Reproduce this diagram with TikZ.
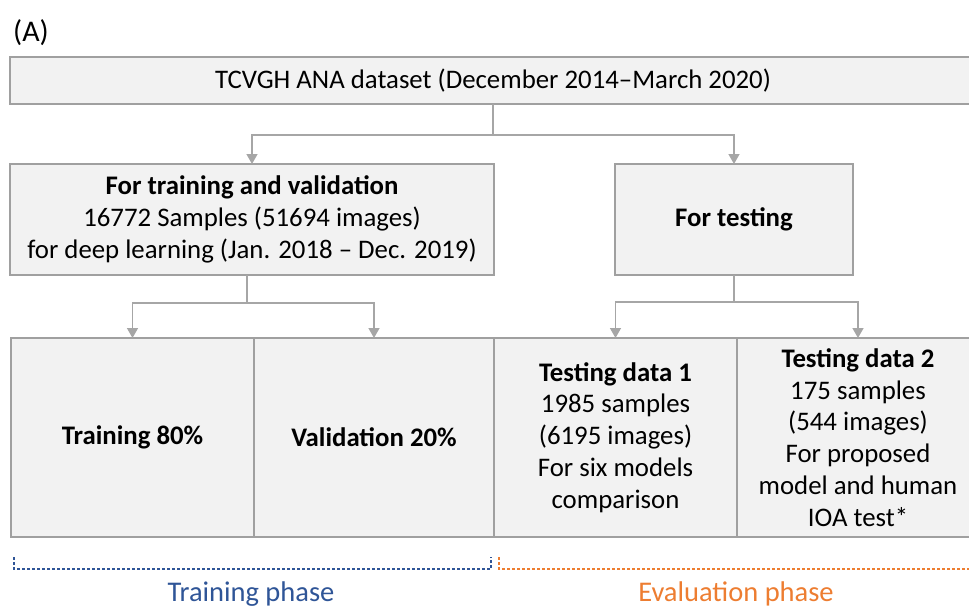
\documentclass[tikz,border=0pt]{standalone}
\usepackage{fontspec}
\setmainfont{Carlito}
\usetikzlibrary{arrows.meta}
\definecolor{boxfill}{HTML}{F2F2F2}
\definecolor{boxline}{HTML}{A0A0A0}
\definecolor{arrowgray}{HTML}{A6A6A6}
\definecolor{phaseblue}{HTML}{2F5597}
\definecolor{phaseorange}{HTML}{ED7D31}
\tikzset{
  box/.style={draw=boxline, fill=boxfill, line width=1.3pt, inner sep=0pt, outer sep=0pt,
    align=center, text=black, font=\fontsize{26.8}{31.8}\selectfont, anchor=north west},
  conn/.style={draw=arrowgray, line width=1.5pt, -{Triangle[width=11pt,length=10pt]}},
  connline/.style={draw=arrowgray, line width=1.5pt},
  bluebracket/.style={draw=phaseblue, line width=1.2pt, dash pattern=on 3pt off 2pt},
  orangebracket/.style={draw=phaseorange, line width=1.2pt, dash pattern=on 3pt off 2pt},
  phaselabel/.style={font=\fontsize{28.5}{32}\selectfont, inner sep=0pt}
}
\begin{document}
\begin{tikzpicture}[x=1pt,y=-1pt]
\useasboundingbox (0,0) rectangle (969,608);
\begin{scope}
\clip (0,0) rectangle (969,608);
% label
\node[font=\fontsize{30}{34}\selectfont, anchor=west, inner sep=0pt] (lab) at (13,33) {(A)};
% top box
\node[box, minimum width=966pt, minimum height=47pt] (top) at (10,57) {TCVGH ANA dataset (December 2014--March 2020)};
% second level
\node[box, minimum width=484pt, minimum height=111pt] (tv) at (10,164)
  {\textbf{For training and validation}\\16772 Samples (51694 images)\\for deep learning (Jan. 2018 -- Dec. 2019)};
\node[box, minimum width=238pt, minimum height=111pt] (test) at (615,164) {\textbf{For testing}};
% bottom row
\node[box, minimum width=243pt, minimum height=199pt] (train) at (11,338) {\textbf{Training 80\%}};
\node[box, minimum width=240pt, minimum height=199pt] (val) at (254,338) {\textbf{Validation 20\%}};
\node[box, minimum width=243pt, minimum height=199pt] (td1) at (494,338)
  {\textbf{Testing data 1}\\1985 samples\\(6195 images)\\For six models\\comparison};
\node[box, minimum width=242pt, minimum height=199pt] (td2) at (737,338)
  {\textbf{Testing data 2}\\175 samples\\(544 images)\\For proposed\\model and human\\IOA test*};
% connectors
\coordinate (j1) at ([yshift=-31pt]top.south);
\draw[connline] (top.south) -- (j1);
\draw[conn] (j1) -| (tv.north);
\draw[conn] (j1) -| (test.north);
\coordinate (j2) at (247,303);
\draw[connline] (tv.south -| j2) -- (j2);
\draw[conn] (j2) -| (train.north);
\draw[conn] (j2) -| (val.north);
\coordinate (j3) at ([yshift=-27pt]test.south);
\draw[connline] (test.south) -- (j3);
\draw[conn] (j3) -| (td1.north);
\draw[conn] (j3) -| (td2.north);
% brackets
\coordinate (b1a) at (14,557);
\coordinate (b1b) at (491,557);
\draw[bluebracket] (b1a) -- ++(0,12) -| (b1b);
\coordinate (b2a) at (499,557);
\coordinate (b2b) at (975,569);
\draw[orangebracket] (b2a) -- ++(0,12) -- (b2b);
\node[phaselabel, text=phaseblue] (tp) at (251,594) {Training phase};
\node[phaselabel, text=phaseorange] (ep) at (736,594) {Evaluation phase};
\end{scope}
\end{tikzpicture}
\end{document}
